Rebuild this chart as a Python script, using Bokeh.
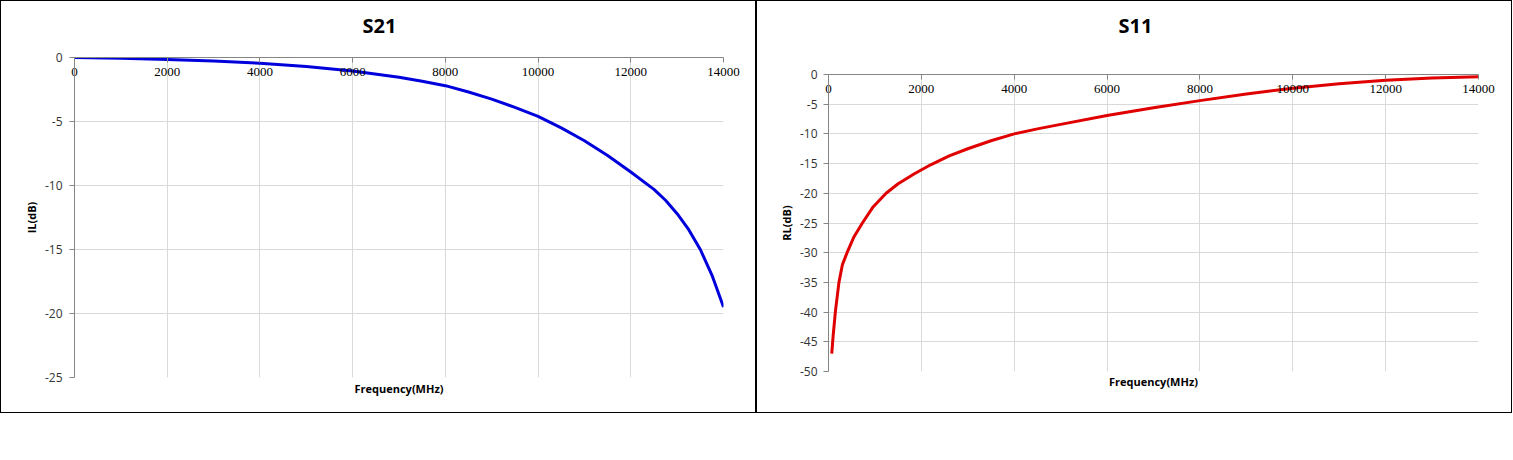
from bokeh.plotting import figure
from bokeh.models import Range1d, FixedTicker, Title
from bokeh.layouts import row, column
from bokeh.embed import file_html
from bokeh.resources import INLINE

# ---- data ----
freq_s21 = [0, 1000, 2000, 3000, 4000, 5000, 6000, 7000, 7500, 8000, 8500, 9000, 9500,
            10000, 10500, 11000, 11500, 12000, 12500, 12750, 13000, 13250, 13500, 13750, 14000]
il_db = [0, -0.05, -0.15, -0.28, -0.45, -0.7, -1.05, -1.55, -1.85, -2.2, -2.7, -3.25, -3.9,
         -4.6, -5.5, -6.5, -7.65, -8.95, -10.3, -11.15, -12.2, -13.45, -15.0, -17.0, -19.5]

freq_s11 = [70, 100, 150, 225, 300, 400, 550, 730, 950, 1240, 1500, 1850, 2200, 2600,
            3000, 3500, 4000, 4500, 5000, 6000, 7000, 8000, 9000, 10000, 11000, 12000,
            13000, 14000]
rl_db = [-47, -44, -39.8, -35, -32, -30, -27.3, -25, -22.4, -20, -18.4, -16.7, -15.2, -13.7,
         -12.5, -11.15, -10.0, -9.15, -8.4, -6.9, -5.6, -4.4, -3.3, -2.3, -1.55, -0.95,
         -0.6, -0.37]

x_ticks = [0, 2000, 4000, 6000, 8000, 10000, 12000, 14000]
s21_y_ticks = [0, -5, -10, -15, -20, -25]
s11_y_ticks = [0, -5, -10, -15, -20, -25, -30, -35, -40, -45, -50]

GRID = "#d9d9d9"
AXIS = "#868686"


def make_chart(title, ylabel, yticks, ymin, freqs, vals, color,
               min_left, min_right, min_top, min_bottom,
               title_offset, top_gap, xlab_standoff, ylab_standoff, ytick_standoff):
    p = figure(width=756, height=413, output_backend="svg", toolbar_location=None,
               x_range=Range1d(0, 14000), y_range=Range1d(ymin, 0),
               x_axis_location="above",
               min_border_left=min_left, min_border_right=min_right,
               min_border_top=min_top, min_border_bottom=min_bottom,
               title=title)
    p.styles = {"border": "1px solid black"}
    p.outline_line_color = None
    p.background_fill_color = "white"
    p.border_fill_color = "white"

    p.title.align = "left"
    p.title.text_font = "Open Sans"
    p.title.text_font_size = "20px"
    p.title.text_font_style = "bold"
    p.title.text_color = "black"
    p.title.offset = title_offset
    p.title.standoff = 0

    p.add_layout(Title(text="Frequency(MHz)", align="center", text_font="Open Sans",
                       text_font_size="11px", text_font_style="bold", text_color="black",
                       standoff=xlab_standoff), "below")

    xa = p.xaxis[0]
    xa.ticker = FixedTicker(ticks=x_ticks)
    xa.major_label_text_font = "Liberation Serif"
    xa.major_label_text_font_size = "13px"
    xa.major_label_text_color = "black"
    xa.major_label_standoff = -18
    xa.major_tick_out = 0
    xa.major_tick_in = 5
    xa.minor_tick_out = 0
    xa.minor_tick_in = 0
    xa.axis_line_color = AXIS
    xa.major_tick_line_color = AXIS
    # invisible spacer label: keeps the chart title at its height above the plot
    xa.axis_label = " "
    xa.axis_label_text_font_size = "1px"
    xa.axis_label_standoff = top_gap

    ya = p.yaxis[0]
    ya.ticker = FixedTicker(ticks=yticks)
    ya.major_label_overrides = {v: str(v) for v in yticks}
    ya.major_label_text_font = "Open Sans"
    ya.major_label_text_font_size = "12px"
    ya.major_label_text_color = "#333333"
    ya.major_label_standoff = ytick_standoff
    ya.major_tick_out = 5
    ya.major_tick_in = 0
    ya.minor_tick_out = 0
    ya.minor_tick_in = 0
    ya.axis_line_color = AXIS
    ya.major_tick_line_color = AXIS
    ya.axis_label = ylabel
    ya.axis_label_text_font = "Open Sans"
    ya.axis_label_text_font_size = "11px"
    ya.axis_label_text_font_style = "bold"
    ya.axis_label_text_color = "black"
    ya.axis_label_standoff = ylab_standoff

    p.xgrid.grid_line_color = GRID
    p.ygrid.grid_line_color = GRID
    p.xgrid.ticker = FixedTicker(ticks=x_ticks)
    p.ygrid.ticker = FixedTicker(ticks=yticks)

    p.line(freqs, vals, line_color=color, line_width=3, line_join="round")
    return p


p1 = make_chart("S21", "IL(dB)", s21_y_ticks, -25, freq_s21, il_db, "#0000dd",
                73, 34, 56, 37, 288, 22, 3, 3, 7)
p2 = make_chart("S11", "RL(dB)", s11_y_ticks, -50, freq_s11, rl_db, "#e00000",
                71, 35, 73, 43, 290, 39, 1, 3, 6)

layout = row(column(p1), column(p2), spacing=0)
open("out.html", "w").write(file_html(layout, INLINE))
